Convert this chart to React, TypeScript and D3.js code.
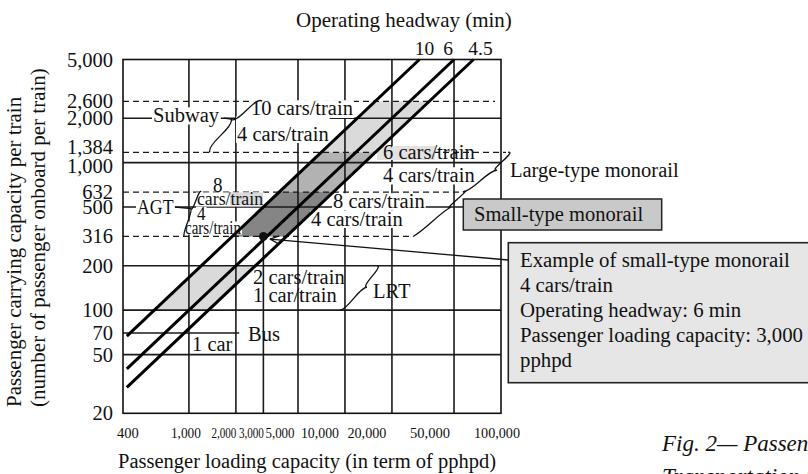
import React, { useEffect, useRef } from "react";
import * as d3 from "d3";

const W = 808;
const H = 474;

// ---------- data ----------
const xTickValues = [400, 1000, 2000, 3000, 5000, 10000, 20000, 50000, 100000];
const xTickLabels = ["400", "1,000", "2,000", "3,000", "5,000", "10,000", "20,000", "50,000", "100,000"];
const xGridValues = [1000, 2000, 5000, 10000, 20000, 50000];
const yTickValues = [5000, 2600, 2000, 1384, 1000, 632, 500, 316, 200, 100, 70, 50, 20];
const yTickLabels = ["5,000", "2,600", "2,000", "1,384", "1,000", "632", "500", "316", "200", "100", "70", "50", "20"];
const ySolidValues = [2000, 1000, 500, 200, 100, 50];
const yDashedValues = [2600, 1384, 632, 316];
const headways = [10, 6, 4.5]; // minutes
const headwayLabels = ["10", "6", "4.5"];
const lineStartLoading = 400; // pphpd where the headway lines start
const bandNames = ["Subway", "Large-type monorail", "Small-type monorail", "LRT"];
const bandLow = [1384, 632, 316, 100];
const bandHigh = [2600, 1384, 632, 200];
const bandFill = ["#dadada", "#b2b2b2", "#858585", "#dadada"];
const exampleLoading = 3000;
const exampleCapacity = 316;
const busCapacity = 70;
const busLineEndLoading = 2100;
// the reference draws the 1,384 guide at roughly the 1,175 height of its log axis
const drawnLevel = (v: number) => (v === 1384 ? 1175 : v);
const exampleLines = [
  "Example of small-type monorail",
  "4 cars/train",
  "Operating headway: 6 min",
  "Passenger loading capacity: 3,000",
  "pphpd",
];

const FONT = "'Liberation Serif','Times New Roman',serif";

export default function App() {
  const ref = useRef<SVGSVGElement>(null);

  useEffect(() => {
    const svg = d3.select(ref.current);
    svg.selectAll("*").remove();

    const left = 123, right = 501, top = 59.5, bottom = 413.3;
    const x = d3.scaleLog().domain([378, 100000]).range([left, right]);
    const y = d3.scaleLog().domain([20, 5000]).range([bottom, top]);
    const Y = (v: number) => y(drawnLevel(v));

    const root = svg.append("g").attr("font-family", FONT).attr("fill", "#111");
    const gBands = root.append("g");
    const gGrid = root.append("g").attr("stroke", "#1a1a1a");
    const gBg = root.append("g");
    const gLines = root.append("g");
    const gAnno = root.append("g").attr("fill", "none").attr("stroke", "#111").attr("stroke-width", 1.3);
    const gText = root.append("g");

    // ---- shaded bands between the 10-min and 4.5-min headway lines ----
    const hMax = d3.max(headways)!;
    const hMin = d3.min(headways)!;
    bandNames.forEach((_, i) => {
      const lo = drawnLevel(bandLow[i]);
      const hi = drawnLevel(bandHigh[i]);
      const pts: [number, number][] = [
        [(lo * 60) / hMax, lo],
        [(hi * 60) / hMax, hi],
        [(hi * 60) / hMin, hi],
        [(lo * 60) / hMin, lo],
      ];
      gBands
        .append("polygon")
        .attr("points", pts.map(([p, c]) => `${x(p)},${y(c)}`).join(" "))
        .attr("fill", bandFill[i]);
    });

    // ---- grid ----
    xGridValues.forEach((v) => {
      gGrid.append("line").attr("x1", x(v)).attr("x2", x(v)).attr("y1", top).attr("y2", bottom).attr("stroke-width", 1.6);
    });
    gGrid
      .append("line")
      .attr("x1", x(exampleLoading))
      .attr("x2", x(exampleLoading))
      .attr("y1", Y(exampleCapacity))
      .attr("y2", bottom)
      .attr("stroke-width", 1.6);
    ySolidValues.forEach((v) => {
      gGrid.append("line").attr("x1", left).attr("x2", right).attr("y1", Y(v)).attr("y2", Y(v)).attr("stroke-width", 1.6);
    });
    gGrid
      .append("line")
      .attr("x1", left)
      .attr("x2", x(busLineEndLoading))
      .attr("y1", Y(busCapacity))
      .attr("y2", Y(busCapacity))
      .attr("stroke-width", 1.6);
    const dashedEnd: Record<number, number> = { 2600: 495, 1384: 506, 632: 463, 316: 413 };
    yDashedValues.forEach((v) => {
      gGrid
        .append("line")
        .attr("x1", left)
        .attr("x2", dashedEnd[v])
        .attr("y1", Y(v))
        .attr("y2", Y(v))
        .attr("stroke-width", 1.3)
        .attr("stroke-dasharray", "6,4");
    });

    // ---- headway lines ----
    headways.forEach((h, i) => {
      const p0 = lineStartLoading;
      const c0 = (p0 * h) / 60;
      const p1 = (5000 * 60) / h;
      gLines
        .append("line")
        .attr("x1", x(p0))
        .attr("y1", y(c0))
        .attr("x2", x(p1))
        .attr("y2", y(5000))
        .attr("stroke", "#000")
        .attr("stroke-width", 3);
      const dx = [5, -6, 7][i];
      gText
        .append("text")
        .attr("x", x(p1) + dx)
        .attr("y", 55)
        .attr("text-anchor", "middle")
        .attr("font-size", 19.5)
        .text(headwayLabels[i]);
    });

    // frame
    gLines
      .append("rect")
      .attr("x", left)
      .attr("y", top)
      .attr("width", right - left)
      .attr("height", bottom - top)
      .attr("fill", "none")
      .attr("stroke", "#111")
      .attr("stroke-width", 1.6);

    // ---- tick labels ----
    const yDy: Record<number, number> = { 1384: -5.5, 1000: 3.2 };
    yTickValues.forEach((v, i) => {
      gText
        .append("text")
        .attr("x", 113)
        .attr("y", Y(v) + 7 + (yDy[v] ?? 0))
        .attr("text-anchor", "end")
        .attr("font-size", 20.5)
        .text(yTickLabels[i]);
    });
    // the reference sets most x labels just left of their grid line
    const xLabelShift = [1, -3, -12, -12, -18, -25, -25, -24, -4];
    const xLabelLen: (number | null)[] = [null, 30, 25, 25, 29, 38, 39, 40, 46];
    xTickValues.forEach((v, i) => {
      const el = gText
        .append("text")
        .attr("x", x(v) + xLabelShift[i])
        .attr("y", 438)
        .attr("text-anchor", "middle")
        .attr("font-size", 14.5)
        .text(xTickLabels[i]);
      const len = xLabelLen[i];
      if (len) el.attr("textLength", len).attr("lengthAdjust", "spacingAndGlyphs");
    });

    // ---- axis titles ----
    gText.append("text").attr("x", 404).attr("y", 27).attr("text-anchor", "middle").attr("font-size", 21).text("Operating headway (min)");
    gText.append("text").attr("x", 307).attr("y", 468).attr("text-anchor", "middle").attr("font-size", 20.5).text("Passenger loading capacity (in term of pphpd)");
    gText
      .append("text")
      .attr("transform", "translate(21,407) rotate(-90)")
      .attr("font-size", 21)
      .text("Passenger carrying capacity per train");
    gText
      .append("text")
      .attr("transform", "translate(45,407) rotate(-90)")
      .attr("font-size", 21)
      .text("(number of passenger onboard per train)");

    // ---- labels ----
    type Opt = { size?: number; bg?: string; len?: number; bgTop?: number; bgBot?: number };
    const label = (t: string, lx: number, ly: number, o: Opt = {}) => {
      const size = o.size ?? 20.5;
      const el = gText.append("text").attr("x", lx).attr("y", ly).attr("font-size", size).text(t);
      if (o.len) el.attr("textLength", o.len).attr("lengthAdjust", "spacingAndGlyphs");
      if (o.bg) {
        const b = (el.node() as SVGTextElement).getBBox();
        const t0 = ly - (o.bgTop ?? size * 0.72);
        const t1 = ly + (o.bgBot ?? 2.5);
        gBg.append("rect").attr("x", b.x - 1).attr("y", t0).attr("width", b.width + 2).attr("height", t1 - t0).attr("fill", o.bg);
      }
      return el;
    };

    label("Subway", 153, 122, { bg: "#fff" });
    label("10 cars/train", 251, 115, { bg: "#fff", bgBot: 3 });
    label("4 cars/train", 237, 140.5, { bg: "#fff", bgTop: 24 });
    gBg.append("rect").attr("x", 377).attr("y", 146).attr("width", 58).attr("height", 14).attr("fill", "#e2e2e2");
    label("6 cars/train", 383, 158.5);
    label("4 cars/train", 383, 182, { bg: "#fff" });
    label("Large-type monorail", 510, 177);
    label("8 cars/train", 333, 208, { bg: "#fff" });
    label("4 cars/train", 311, 225.5, { bg: "#fff" });
    label("AGT", 137, 214, { bg: "#fff", len: 36.5 });
    label("8", 213, 191.5, { size: 20, len: 9.5 });
    label("cars/train", 197, 204.5, { size: 19.5, len: 66, bg: "#fff", bgTop: 12, bgBot: 2 });
    gBg.append("rect").attr("x", 230).attr("y", 192.5).attr("width", 33).attr("height", 13).attr("fill", "#dadada");
    label("4", 197, 220, { size: 18.5, len: 8.5, bg: "#fff", bgTop: 13 });
    label("cars/train", 185, 233.5, { size: 18.5, len: 56, bg: "#fff", bgTop: 12, bgBot: 1 });
    label("2 cars/train", 253, 283.5);
    label("1 car/train", 253, 302);
    label("LRT", 373, 298);
    label("Bus", 248, 340.5);
    label("1 car", 192, 350.5);

    // ---- braces ----
    const brace = (ax: number, ay: number, bx: number, by: number, tx: number, ty: number) => {
      const mx = (ax + bx) / 2, my = (ay + by) / 2;
      const nx = tx - mx, ny = ty - my;
      const q1x = (3 * ax + bx) / 4 + nx * 0.5, q1y = (3 * ay + by) / 4 + ny * 0.5;
      const q3x = (ax + 3 * bx) / 4 + nx * 0.5, q3y = (ay + 3 * by) / 4 + ny * 0.5;
      gAnno
        .append("path")
        .attr(
          "d",
          `M${ax},${ay} Q${ax + nx * 0.5},${ay + ny * 0.5} ${q1x},${q1y} T${tx},${ty} M${bx},${by} Q${bx + nx * 0.5},${by + ny * 0.5} ${q3x},${q3y} T${tx},${ty}`
        );
    };
    brace(262, Y(2600), 210, Y(1384), 231, 119);
    gAnno.append("line").attr("x1", 224).attr("y1", Y(2000)).attr("x2", 231).attr("y2", 119);
    brace(201, Y(632), 184, Y(316), 191, 208.5);
    gAnno.append("line").attr("x1", 175).attr("y1", Y(500)).attr("x2", 191).attr("y2", 208.5);
    brace(508, Y(1384), 463, Y(632), 497, 170);
    brace(463, Y(632), 413, Y(316), 451, 207);
    brace(377, Y(200), 340, Y(100), 367, 287);

    // ---- small-type monorail box ----
    gAnno.append("rect").attr("x", 463.3).attr("y", 199).attr("width", 198.4).attr("height", 31).attr("fill", "#c9c9c9").attr("stroke", "#222").attr("stroke-width", 1.5);
    gText.append("text").attr("x", 474).attr("y", 220.5).attr("font-size", 20.5).text("Small-type monorail");

    // ---- example box ----
    gAnno.append("rect").attr("x", 508.3).attr("y", 242.7).attr("width", 320).attr("height", 140).attr("fill", "#e6e6e6").attr("stroke", "#222").attr("stroke-width", 1.6);
    exampleLines.forEach((t, i) => {
      gText.append("text").attr("x", 520).attr("y", 267 + i * 25).attr("font-size", 20.8).text(t);
    });

    // ---- example point + arrow ----
    const ex = x(exampleLoading), ey = Y(exampleCapacity);
    gText.append("circle").attr("cx", ex).attr("cy", ey).attr("r", 4.4).attr("fill", "#111");
    const sx = 508.3, sy = 260;
    const tx = ex + 6.5, ty = ey + 2.6;
    gAnno.append("line").attr("x1", sx).attr("y1", sy).attr("x2", tx).attr("y2", ty);
    const ang = Math.atan2(sy - ty, sx - tx);
    [0.42, -0.42].forEach((d) => {
      gAnno
        .append("line")
        .attr("x1", tx)
        .attr("y1", ty)
        .attr("x2", tx + 10 * Math.cos(ang + d))
        .attr("y2", ty + 10 * Math.sin(ang + d));
    });

    // ---- caption (cut off by the page edge in the reference) ----
    gText.append("text").attr("x", 662).attr("y", 451).attr("font-size", 23).attr("font-style", "italic").text("Fig. 2— Passenger Carrying Capacity of Each");
    gText.append("text").attr("x", 662).attr("y", 484).attr("font-size", 23).attr("font-style", "italic").text("Transportation System");
  }, []);

  return (
    <svg
      ref={ref}
      width={W}
      height={H}
      style={{ position: "absolute", left: 0, top: 0, background: "#fff" }}
    />
  );
}
